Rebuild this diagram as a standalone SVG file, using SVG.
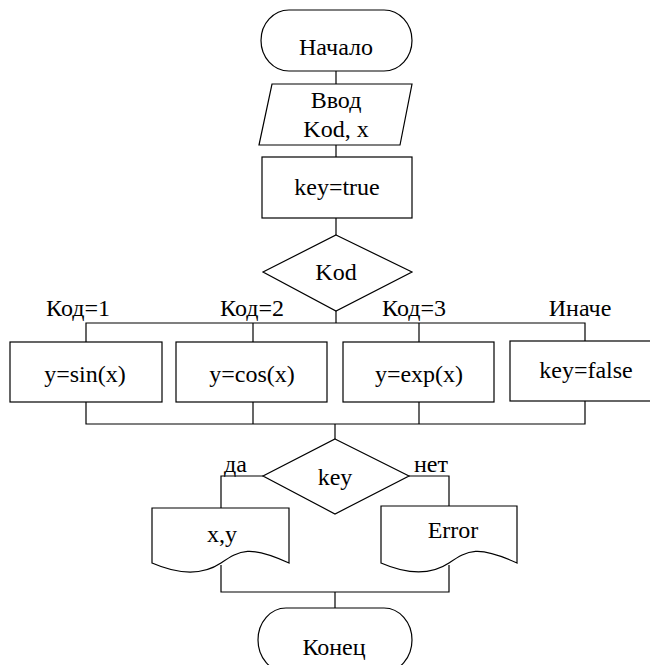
<svg xmlns="http://www.w3.org/2000/svg" width="650" height="665" viewBox="0 0 650 665" font-family="Liberation Serif, Times New Roman, Times, serif" font-size="24">
  <style>
    .shape { fill: #ffffff; stroke: #000000; stroke-width: 1.2; }
    .wire { fill: none; stroke: #000000; stroke-width: 1.2; }
    .c { text-anchor: middle; }
  </style>
  <rect width="650" height="665" fill="#ffffff"/>

  <!-- connectors -->
  <g id="connectors">
    <path class="wire" d="M336,71 V84"/>
    <path class="wire" d="M336,145 V157"/>
    <path class="wire" d="M336,218 V235"/>
    <!-- case branches -->
    <path class="wire" d="M336,311 V323"/>
    <path class="wire" d="M86,342 V323 H585 V341"/>
    <path class="wire" d="M253,323 V342"/>
    <path class="wire" d="M419,323 V342"/>
    <!-- merge -->
    <path class="wire" d="M86,402 V424 H585 V401"/>
    <path class="wire" d="M253,402 V424"/>
    <path class="wire" d="M419,402 V424"/>
    <path class="wire" d="M335,424 V439"/>
    <!-- key decision -->
    <path class="wire" d="M263,476 H221 V508"/>
    <path class="wire" d="M409,476 H449 V506"/>
    <path class="wire" d="M221,565 V592 H449 V565"/>
    <path class="wire" d="M335,592 V608"/>
    <text x="224" y="472">да</text>
    <text x="448" y="472" text-anchor="end">нет</text>
    <text x="78" y="316" class="c">Код=1</text>
    <text x="252" y="316" class="c">Код=2</text>
    <text x="414" y="316" class="c">Код=3</text>
    <text x="580" y="316" class="c">Иначе</text>
  </g>

  <g id="start">
    <rect class="shape" x="261" y="10" width="151" height="61" rx="28" ry="30.5"/>
    <text x="336" y="55" class="c">Начало</text>
  </g>

  <g id="input">
    <polygon class="shape" points="272,84 412,84 400,145 259,145"/>
    <text x="336" y="108" class="c">Ввод</text>
    <text x="336" y="137" class="c">Kod, x</text>
  </g>

  <g id="init">
    <rect class="shape" x="262" y="157" width="150" height="61"/>
    <text x="337" y="195" class="c">key=true</text>
  </g>

  <g id="switch">
    <polygon class="shape" points="336,235 412,272 336,311 263,272"/>
    <text x="336" y="280" class="c">Kod</text>
  </g>

  <g id="case1">
    <rect class="shape" x="10" y="342" width="152" height="60"/>
    <text x="85" y="382" class="c">y=sin(x)</text>
  </g>

  <g id="case2">
    <rect class="shape" x="176" y="342" width="151" height="60"/>
    <text x="252" y="382" class="c">y=cos(x)</text>
  </g>

  <g id="case3">
    <rect class="shape" x="343" y="342" width="151" height="60"/>
    <text x="419" y="382" class="c">y=exp(x)</text>
  </g>

  <g id="default">
    <rect class="shape" x="510" y="341" width="145" height="60"/>
    <text x="586" y="378" class="c">key=false</text>
  </g>

  <g id="check">
    <polygon class="shape" points="335,439 409,476 335,514 263,476"/>
    <text x="335" y="485" class="c">key</text>
  </g>

  <g id="output">
    <path class="shape" d="M152,508 H289 V563 C250,545 240,550 221,563 C200,577 175,573 152,563 Z"/>
    <text x="222" y="542" class="c">x,y</text>
  </g>

  <g id="error">
    <path class="shape" d="M381,506 H517 V563 C478,545 468,550 449,563 C428,577 404,573 381,563 Z"/>
    <text x="453" y="538" class="c">Error</text>
  </g>

  <g id="end">
    <rect class="shape" x="258" y="608" width="154" height="64" rx="28" ry="32"/>
    <text x="334" y="655" class="c">Конец</text>
  </g>
</svg>
